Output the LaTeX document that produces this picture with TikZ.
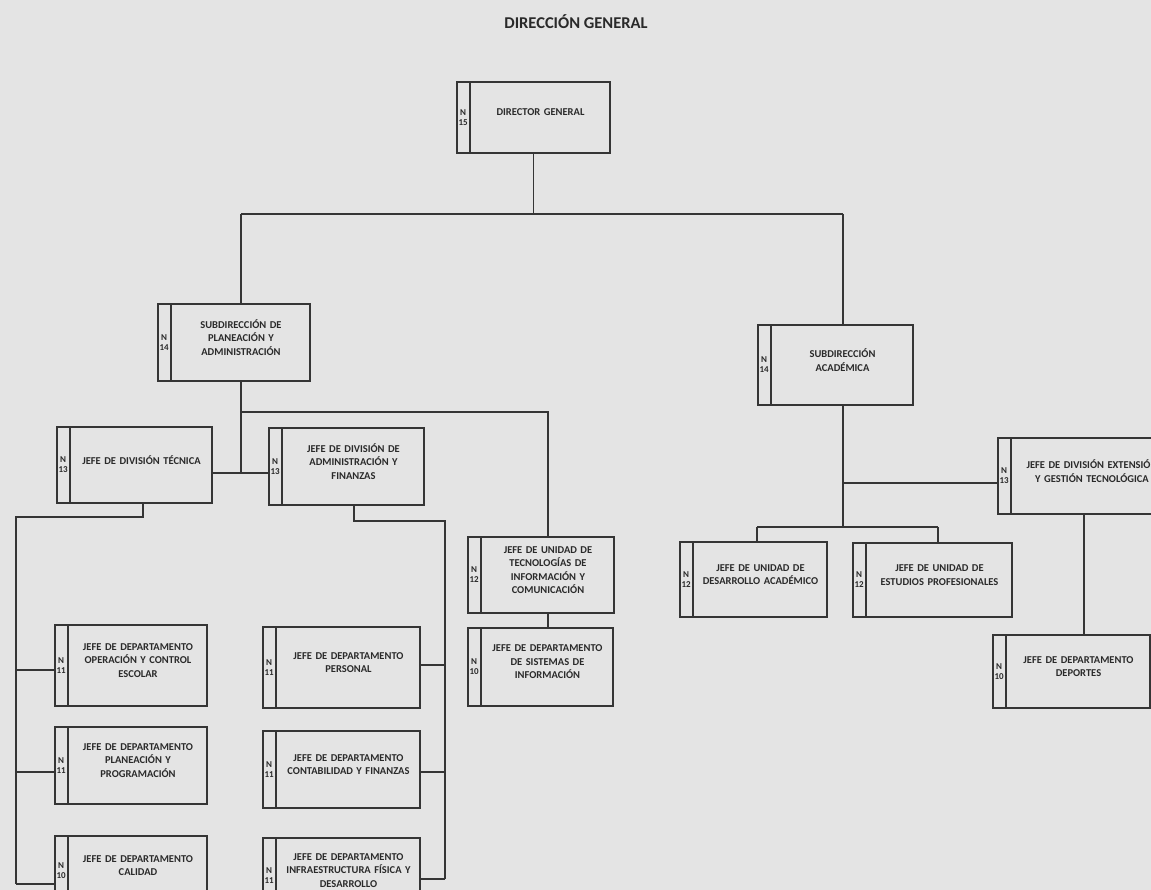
\documentclass[tikz,border=0pt]{standalone}
\usepackage{fontspec}
\setmainfont{Carlito}
\newfontfamily\boxfont{Carlito}
\usetikzlibrary{calc}
\definecolor{paper}{HTML}{E4E4E4}
\definecolor{ink}{HTML}{353535}
\definecolor{txt}{HTML}{2A2A2A}
\tikzset{
  boxline/.style={draw=ink, line width=1.7pt},
  orgbox/.style={boxline, rectangle, inner sep=0pt},
  conn/.style={draw=ink, line width=1.7pt},
  ntext/.style={font=\boxfont\bfseries\fontsize{9}{10}\selectfont, text=txt, align=center, inner sep=0pt},
  btext/.style={font=\boxfont\bfseries\fontsize{10.5}{13.5}\selectfont, text=txt, align=center, inner sep=0pt},
  titletext/.style={font=\bfseries\fontsize{16.5}{18}\selectfont, text=txt, inner sep=0pt}
}
\newcommand\orgunit[7]{%
  \pgfmathsetmacro\owd{#4-#2}%
  \pgfmathsetmacro\oht{#5-#3}%
  \pgfmathsetmacro\otw{#4-#2-18}%
  \node[orgbox, minimum width=\owd pt, minimum height=\oht pt] (#1) at ({(#2+#4)/2},{(#3+#5)/2}) {};
  \draw[boxline] ([xshift=14pt]#1.north west) -- ([xshift=14pt]#1.south west);
  \node[ntext] (#1-n) at ([xshift=7pt]#1.west) {N\\#6};
  \node[btext, text width=\otw pt] (#1-t) at ([xshift=7pt,yshift=5pt]#1.center) {#7};
}
\begin{document}
\begin{tikzpicture}[x=1pt,y=-1pt]
\useasboundingbox (0,0) rectangle (1151,890);
\fill[paper] (0,0) rectangle (1151,890);
\clip (0,0) rectangle (1151,890);

\node[titletext] (title) at (576,22) {DIRECCIÓN GENERAL};

\orgunit{dg}{457}{82}{610}{153}{15}{DIRECTOR GENERAL}
\orgunit{spa}{158}{304}{310}{381}{14}{SUBDIRECCIÓN DE\\PLANEACIÓN Y\\ADMINISTRACIÓN}
\orgunit{sac}{758}{325}{913}{405}{14}{SUBDIRECCIÓN\\ACADÉMICA}
\orgunit{dtec}{57}{427}{212}{503}{13}{JEFE DE DIVISIÓN TÉCNICA}
\orgunit{dadm}{269}{428}{424}{505}{13}{JEFE DE DIVISIÓN DE\\ADMINISTRACIÓN Y\\FINANZAS}
\orgunit{ext}{998}{438}{1172}{514}{13}{JEFE DE DIVISIÓN EXTENSIÓN\\Y GESTIÓN TECNOLÓGICA}
\orgunit{tic}{468}{537}{614}{613}{12}{JEFE DE UNIDAD DE\\TECNOLOGÍAS DE\\INFORMACIÓN Y\\COMUNICACIÓN}
\orgunit{sis}{468}{628}{613}{706}{10}{JEFE DE DEPARTAMENTO\\DE SISTEMAS DE\\INFORMACIÓN}
\orgunit{dac}{680}{542}{827}{617}{12}{JEFE DE UNIDAD DE\\DESARROLLO ACADÉMICO}
\orgunit{epr}{853}{543}{1012}{617}{12}{JEFE DE UNIDAD DE\\ESTUDIOS PROFESIONALES}
\orgunit{dep}{993}{635}{1150}{708}{10}{JEFE DE DEPARTAMENTO\\DEPORTES}
\orgunit{op}{55}{625}{207}{706}{11}{JEFE DE DEPARTAMENTO\\OPERACIÓN Y CONTROL\\ESCOLAR}
\orgunit{per}{263}{627}{420}{708}{11}{JEFE DE DEPARTAMENTO\\PERSONAL}
\orgunit{plan}{55}{727}{207}{804}{11}{JEFE DE DEPARTAMENTO\\PLANEACIÓN Y\\PROGRAMACIÓN}
\orgunit{con}{263}{731}{420}{808}{11}{JEFE DE DEPARTAMENTO\\CONTABILIDAD Y FINANZAS}
\orgunit{cal}{55}{836}{207}{905}{10}{JEFE DE DEPARTAMENTO\\CALIDAD}
\orgunit{inf}{263}{838}{420}{913}{11}{JEFE DE DEPARTAMENTO\\INFRAESTRUCTURA FÍSICA Y\\DESARROLLO}

% junction coordinates
\coordinate (j1) at (241,214);
\coordinate (j2) at (843,214);
\coordinate (k1) at (241,412);
\coordinate (k2) at (548,412);
\coordinate (k3) at (241,473);
\coordinate (m1) at (143,517);
\coordinate (m2) at (16,517);
\coordinate (b1) at (16,670);
\coordinate (b2) at (16,772);
\coordinate (b3) at (16,884);
\coordinate (n1) at (354,521);
\coordinate (n2) at (445,521);
\coordinate (c1) at (445,665);
\coordinate (c2) at (445,772);
\coordinate (c3) at (445,879);
\coordinate (r0) at (843,483);
\coordinate (r1) at (843,527);
\coordinate (r2) at (757,527);
\coordinate (r3) at (938,527);
\coordinate (e1) at (1084,520);

% top level
\draw[conn] (dg.south) -- (dg.south |- j1);
\draw[conn] (j1) -- (j2);
\draw[conn] (j1) -- (j1 |- spa.north);
\draw[conn] (j2) -- (j2 |- sac.north);

% planeacion subtree
\draw[conn] (spa.south -| k1) -- (k3);
\draw[conn] (k1) -- (k2) -- (k2 |- tic.north);
\draw[conn] (dtec.east |- k3) -- (dadm.west |- k3);
\draw[conn] (tic.south -| k2) -- (sis.north -| k2);

% division tecnica
\draw[conn] (dtec.south -| m1) -- (m1) -- (m2) -- (b3);
\draw[conn] (b1) -- (op.west |- b1);
\draw[conn] (b2) -- (plan.west |- b2);
\draw[conn] (b3) -- (cal.west |- b3);

% division administracion
\draw[conn] (dadm.south -| n1) -- (n1) -- (n2) -- (c3);
\draw[conn] (c1) -- (per.east |- c1);
\draw[conn] (c2) -- (con.east |- c2);
\draw[conn] (c3) -- (inf.east |- c3);

% academica subtree
\draw[conn] (sac.south -| r0) -- (r1);
\draw[conn] (r0) -- (ext.west |- r0);
\draw[conn] (r2) -- (r3);
\draw[conn] (r2) -- (r2 |- dac.north);
\draw[conn] (r3) -- (r3 |- epr.north);
\draw[conn] (ext.south -| e1) -- (dep.north -| e1);
\end{tikzpicture}
\end{document}
